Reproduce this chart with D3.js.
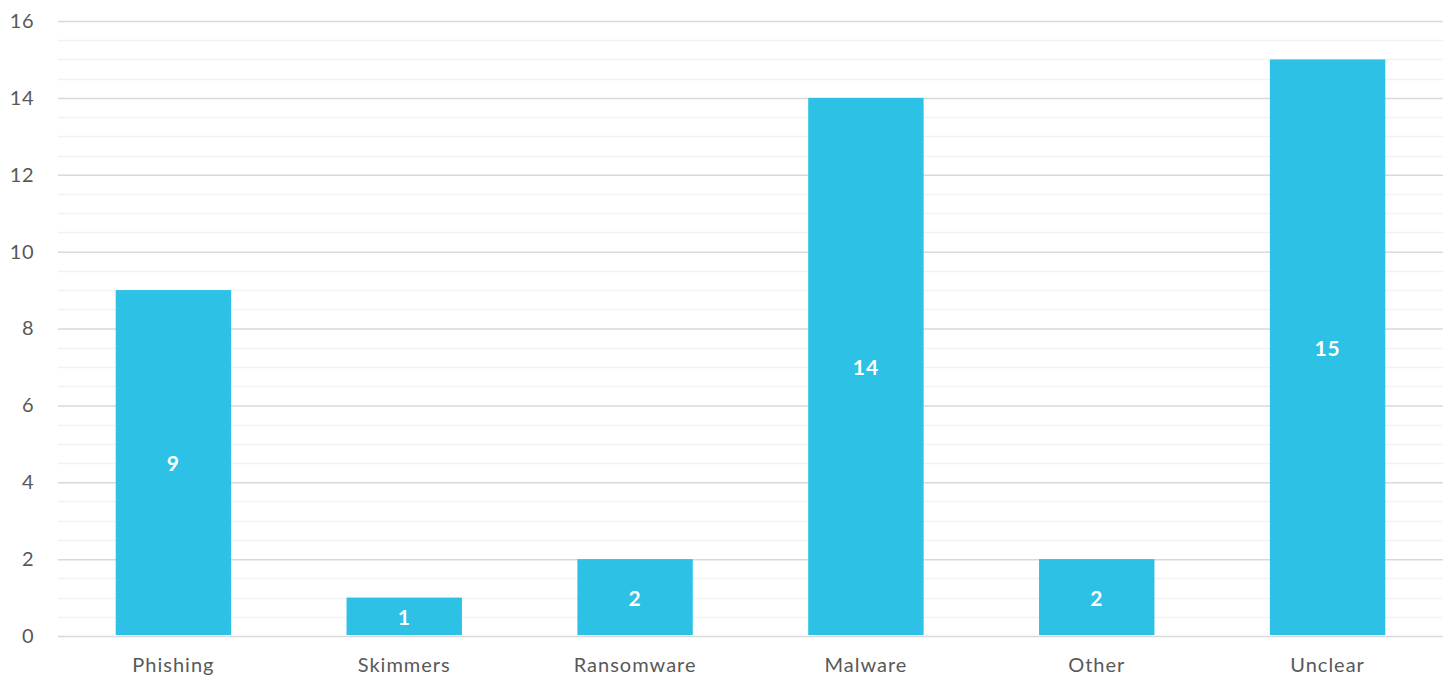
<!DOCTYPE html>
<html>
<head>
<meta charset="utf-8">
<script src="https://cdn.jsdelivr.net/npm/d3@7"></script>
<style>
  html, body { margin: 0; padding: 0; background: #fff; }
  svg { display: block; font-family: Lato, "Open Sans", sans-serif; }
</style>
</head>
<body>
<svg id="chart" width="1452" height="681"></svg>
<script>
// Incident counts by attack type
const categories = ["Phishing", "Skimmers", "Ransomware", "Malware", "Other", "Unclear"];
const counts = [9, 1, 2, 14, 2, 15];
const yTicks = [0, 2, 4, 6, 8, 10, 12, 14, 16];

const W = 1452, H = 681;
const margin = { top: 21, right: 9, bottom: 45, left: 58 };

const svg = d3.select("#chart");

const x = d3.scaleBand()
  .domain(categories)
  .range([margin.left, W - margin.right])
  .paddingInner(0.5)
  .paddingOuter(0.25);

const y = d3.scaleLinear()
  .domain([0, 16])
  .range([H - margin.bottom, margin.top]);

// Minor gridlines every 0.5
const minor = d3.range(0.5, 16, 0.5).filter(v => v % 2 !== 0);
svg.append("g")
  .selectAll("line")
  .data(minor)
  .join("line")
  .attr("x1", margin.left)
  .attr("x2", W - margin.right)
  .attr("y1", d => Math.round(y(d)) + 0.5)
  .attr("y2", d => Math.round(y(d)) + 0.5)
  .attr("stroke", "#F2F2F2")
  .attr("stroke-width", 1.3);

// Major gridlines and y-axis labels
const yAxis = d3.axisLeft(y)
  .tickValues(yTicks)
  .tickSize(-(W - margin.left - margin.right))
  .tickPadding(24)
  .tickFormat(d3.format("d"));

const gy = svg.append("g")
  .attr("transform", `translate(${margin.left},0)`)
  .call(yAxis);
gy.select(".domain").remove();
gy.selectAll(".tick line")
  .attr("stroke", "#D9D9D9")
  .attr("stroke-width", 1.5);
gy.selectAll(".tick text")
  .attr("fill", "#595959")
  .attr("font-size", "20px")
  .attr("letter-spacing", "0.5px")
  .attr("font-family", "Lato, 'Open Sans', sans-serif");

// Bars
svg.append("g")
  .selectAll("rect")
  .data(categories)
  .join("rect")
  .attr("x", d => x(d))
  .attr("width", x.bandwidth())
  .attr("y", (d, i) => y(counts[i]))
  .attr("height", (d, i) => y(0) - y(counts[i]) - 1)
  .attr("fill", "#2DC1E6");

// Value labels centred in bars
svg.append("g")
  .selectAll("text")
  .data(categories)
  .join("text")
  .attr("x", d => x(d) + x.bandwidth() / 2)
  .attr("y", (d, i) => y(counts[i] / 2))
  .attr("dy", "0.4em")
  .attr("text-anchor", "middle")
  .attr("fill", "#fff")
  .attr("font-weight", "bold")
  .attr("font-size", "21px")
  .attr("letter-spacing", "1px")
  .text((d, i) => counts[i]);

// Category axis
const xAxis = d3.axisBottom(x).tickSize(0).tickPadding(22);
const gx = svg.append("g")
  .attr("transform", `translate(0,${y(0)})`)
  .call(xAxis);
gx.select(".domain").remove();
gx.selectAll(".tick text")
  .attr("fill", "#595959")
  .attr("font-size", "20px")
  .attr("letter-spacing", "1px")
  .attr("font-family", "Lato, 'Open Sans', sans-serif");
</script>
</body>
</html>
